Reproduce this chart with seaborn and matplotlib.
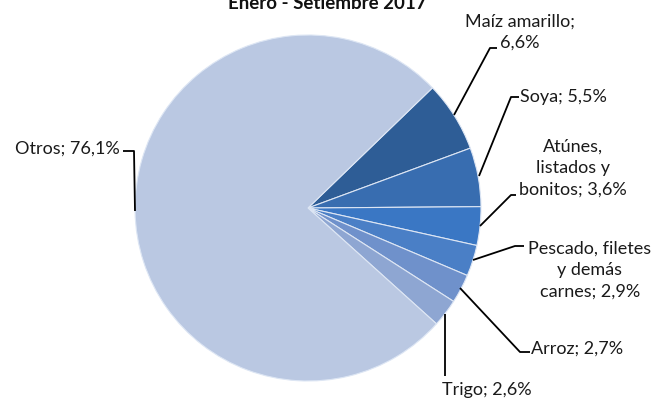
import matplotlib
matplotlib.use("Agg")
import matplotlib.pyplot as plt
import seaborn as sns

categories = ["Maíz amarillo", "Soya", "Atúnes, listados y bonitos",
              "Pescado, filetes y demás carnes", "Arroz", "Trigo", "Otros"]
values = [6.6, 5.5, 3.6, 2.9, 2.7, 2.6, 76.1]
label_texts = ["Maíz amarillo;\n6,6%", "Soya; 5,5%", "Atúnes,\nlistados y\nbonitos; 3,6%",
               "Pescado, filetes\ny demás\ncarnes; 2,9%", "Arroz; 2,7%", "Trigo; 2,6%",
               "Otros; 76,1%"]
title = "Enero - Setiembre 2017"

sns.set_theme(style="white")
plt.rcParams["font.family"] = ["Lato", "DejaVu Sans"]

colors = ["#2e5d96", "#386db0", "#3a77c4", "#4a7fc6", "#6f91cb", "#8ea6d2", "#bac8e2"]

W, H = 655, 402
fig = plt.figure(figsize=(W / 100, H / 100), dpi=100)
ax = fig.add_axes([0, 0, 1, 1])

def P(x, y):
    return (x, H - y)

cx, cy = P(308, 209)
r = 173
wedges, _ = ax.pie(values, colors=colors, startangle=44, counterclock=False,
                   center=(cx, cy), radius=r,
                   wedgeprops=dict(edgecolor="#dde6f4", linewidth=0.8))
ax.set_xlim(0, W)
ax.set_ylim(0, H)
ax.set_aspect("equal")
ax.axis("off")

fs = 13
# labels: (text, x, y, ha, leader points)
specs = [
    (label_texts[0], 520, 32, "center", [(497, 49), (490, 49), (454, 116)]),
    (label_texts[1], 520, 97, "left", [(519, 98), (511, 98), (479, 177)]),
    (label_texts[2], 573, 168, "center", [(516, 196), (511, 196), (480, 227)]),
    (label_texts[3], 590, 270, "center", [(524, 247), (515, 247), (473, 261)]),
    (label_texts[4], 531, 349, "left", [(530, 353), (520, 353), (460, 289)]),
    (label_texts[5], 442, 390, "left", [(445, 377), (445, 315)]),
    (label_texts[6], 120, 149, "right", [(123, 152), (134, 152), (135, 212)]),
]
for txt, x, y, ha, pts in specs:
    ax.text(*P(x, y), txt, ha=ha, va="center", fontsize=fs, color="#1a1a1a",
            linespacing=1.4)
    xs = [p[0] for p in pts]
    ys = [H - p[1] for p in pts]
    ax.plot(xs, ys, color="black", linewidth=1.3, solid_capstyle="butt")

ax.text(*P(327, 12), title, ha="center", va="bottom", fontsize=13.5,
        fontweight="bold", color="#111111")

fig.savefig("out.png", dpi=100)
